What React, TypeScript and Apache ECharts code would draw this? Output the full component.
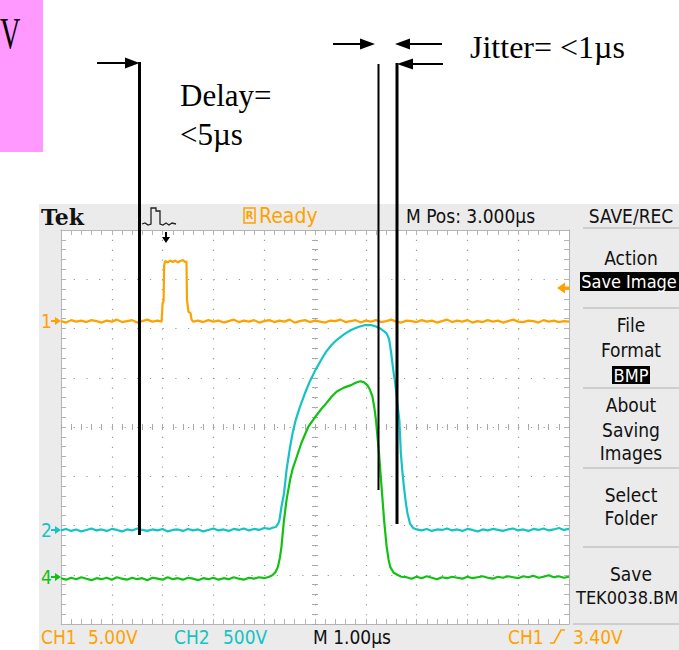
import React, { useEffect, useRef } from 'react';
import * as echarts from 'echarts';

// time in µs from screen centre, level in screen divisions
const ch1: number[][] = [
  [-5.0, 2.15], [-4.9, 2.12], [-4.8, 2.17], [-4.7, 2.14], [-4.6, 2.16], [-4.5, 2.13], [-4.4, 2.17], [-4.3, 2.15],
  [-4.2, 2.12], [-4.1, 2.16], [-4.0, 2.14], [-3.9, 2.18], [-3.8, 2.13], [-3.7, 2.15], [-3.6, 2.17], [-3.5, 2.12],
  [-3.4, 2.15], [-3.3, 2.18], [-3.2, 2.14], [-3.1, 2.16], [-3.02, 2.14],
  [-3.0, 2.52], [-2.98, 2.56], [-2.97, 3.28], [-2.95, 3.37], [-2.9, 3.34], [-2.85, 3.38], [-2.8, 3.35], [-2.75, 3.38],
  [-2.7, 3.34], [-2.65, 3.37], [-2.6, 3.39], [-2.56, 3.35], [-2.53, 3.36], [-2.52, 2.58], [-2.49, 2.34], [-2.45, 2.31],
  [-2.43, 2.18], [-2.4, 2.14], [-2.3, 2.16], [-2.2, 2.13], [-2.1, 2.17], [-2.0, 2.14], [-1.9, 2.16], [-1.8, 2.12],
  [-1.7, 2.15], [-1.6, 2.18], [-1.5, 2.13], [-1.4, 2.16], [-1.3, 2.14], [-1.2, 2.17], [-1.1, 2.12], [-1.0, 2.15],
  [-0.9, 2.17], [-0.8, 2.13], [-0.7, 2.16], [-0.6, 2.14], [-0.5, 2.18], [-0.4, 2.12], [-0.3, 2.15], [-0.2, 2.17],
  [-0.1, 2.13], [0.0, 2.16], [0.1, 2.14], [0.2, 2.12], [0.3, 2.16], [0.4, 2.15], [0.5, 2.18], [0.6, 2.13],
  [0.7, 2.15], [0.8, 2.17], [0.9, 2.12], [1.0, 2.16], [1.1, 2.14], [1.2, 2.17], [1.3, 2.13], [1.4, 2.15],
  [1.5, 2.18], [1.6, 2.14], [1.7, 2.12], [1.8, 2.16], [1.9, 2.15], [2.0, 2.13], [2.1, 2.17], [2.2, 2.14],
  [2.3, 2.16], [2.4, 2.12], [2.5, 2.15], [2.6, 2.18], [2.7, 2.13], [2.8, 2.16], [2.9, 2.14], [3.0, 2.17],
  [3.1, 2.12], [3.2, 2.15], [3.3, 2.13], [3.4, 2.17], [3.5, 2.14], [3.6, 2.16], [3.7, 2.12], [3.8, 2.15],
  [3.9, 2.18], [4.0, 2.14], [4.1, 2.13], [4.2, 2.16], [4.3, 2.15], [4.4, 2.12], [4.5, 2.17], [4.6, 2.14],
  [4.7, 2.16], [4.8, 2.13], [4.9, 2.15], [5.0, 2.14],
];

const ch2: number[][] = [
  [-5.0, -2.10], [-4.9, -2.07], [-4.8, -2.11], [-4.7, -2.08], [-4.6, -2.12], [-4.5, -2.09], [-4.4, -2.06], [-4.3, -2.10],
  [-4.2, -2.08], [-4.1, -2.11], [-4.0, -2.07], [-3.9, -2.09], [-3.8, -2.12], [-3.7, -2.08], [-3.6, -2.10], [-3.5, -2.06],
  [-3.4, -2.09], [-3.3, -2.11], [-3.2, -2.08], [-3.1, -2.10], [-3.0, -2.07], [-2.9, -2.12], [-2.8, -2.09], [-2.7, -2.08],
  [-2.6, -2.11], [-2.5, -2.07], [-2.4, -2.10], [-2.3, -2.08], [-2.2, -2.12], [-2.1, -2.09], [-2.0, -2.06], [-1.9, -2.10],
  [-1.8, -2.08], [-1.7, -2.11], [-1.6, -2.07], [-1.5, -2.09], [-1.4, -2.06], [-1.3, -2.10], [-1.2, -2.07], [-1.1, -2.09],
  [-1.0, -2.05], [-0.9, -2.07], [-0.82, -2.04],
  [-0.77, -2.03], [-0.72, -1.95], [-0.7, -1.89], [-0.66, -1.62], [-0.61, -1.35], [-0.56, -0.87], [-0.49, -0.40],
  [-0.44, -0.12], [-0.38, 0.14], [-0.3, 0.40], [-0.2, 0.68], [-0.1, 0.93], [0.01, 1.16], [0.12, 1.36], [0.22, 1.53],
  [0.32, 1.66], [0.43, 1.77], [0.57, 1.88], [0.71, 1.97], [0.85, 2.03], [0.99, 2.07], [1.1, 2.07], [1.2, 2.04],
  [1.3, 1.99], [1.41, 1.90], [1.46, 1.78], [1.5, 1.50], [1.54, 1.16], [1.57, 0.95], [1.6, 0.70], [1.63, 0.40],
  [1.66, 0.14], [1.69, -0.53], [1.72, -0.90], [1.75, -1.21], [1.79, -1.55], [1.82, -1.75], [1.87, -1.96], [1.93, -2.05],
  [2.0, -2.08], [2.1, -2.10], [2.2, -2.07], [2.3, -2.11], [2.4, -2.08], [2.5, -2.09], [2.6, -2.06], [2.7, -2.10],
  [2.8, -2.08], [2.9, -2.11], [3.0, -2.07], [3.1, -2.09], [3.2, -2.12], [3.3, -2.08], [3.4, -2.10], [3.5, -2.07],
  [3.6, -2.09], [3.7, -2.11], [3.8, -2.08], [3.9, -2.06], [4.0, -2.10], [4.1, -2.08], [4.2, -2.11], [4.3, -2.07],
  [4.4, -2.09], [4.5, -2.06], [4.6, -2.10], [4.7, -2.08], [4.8, -2.05], [4.9, -2.09], [5.0, -2.07],
];

const ch4: number[][] = [
  [-5.0, -3.07], [-4.9, -3.10], [-4.8, -3.06], [-4.7, -3.09], [-4.6, -3.05], [-4.5, -3.08], [-4.4, -3.11], [-4.3, -3.07],
  [-4.2, -3.09], [-4.1, -3.06], [-4.0, -3.10], [-3.9, -3.05], [-3.8, -3.08], [-3.7, -3.10], [-3.6, -3.06], [-3.5, -3.09],
  [-3.4, -3.07], [-3.3, -3.11], [-3.2, -3.06], [-3.1, -3.08], [-3.0, -3.10], [-2.9, -3.05], [-2.8, -3.09], [-2.7, -3.07],
  [-2.6, -3.10], [-2.5, -3.06], [-2.4, -3.08], [-2.3, -3.11], [-2.2, -3.07], [-2.1, -3.09], [-2.0, -3.06], [-1.9, -3.10],
  [-1.8, -3.07], [-1.7, -3.09], [-1.6, -3.05], [-1.5, -3.08], [-1.4, -3.10], [-1.3, -3.06], [-1.2, -3.08], [-1.1, -3.05],
  [-1.0, -3.07], [-0.9, -3.04],
  [-0.84, -3.01], [-0.78, -2.95], [-0.73, -2.84], [-0.69, -2.65], [-0.66, -2.43], [-0.63, -2.10], [-0.61, -1.89],
  [-0.56, -1.48], [-0.49, -1.07], [-0.44, -0.85], [-0.38, -0.67], [-0.27, -0.33], [-0.13, 0.01], [0.01, 0.21],
  [0.12, 0.36], [0.22, 0.48], [0.33, 0.62], [0.43, 0.72], [0.57, 0.80], [0.71, 0.85], [0.8, 0.90], [0.89, 0.93],
  [0.96, 0.91], [1.03, 0.85], [1.08, 0.76], [1.13, 0.62], [1.17, 0.38], [1.2, 0.14], [1.23, -0.20], [1.26, -0.53],
  [1.31, -1.21], [1.36, -1.89], [1.41, -2.43], [1.45, -2.70], [1.48, -2.84], [1.55, -2.96], [1.62, -3.00], [1.7, -3.04],
  [1.8, -3.05], [1.9, -3.08], [2.0, -3.04], [2.1, -3.07], [2.2, -3.03], [2.3, -3.06], [2.4, -3.09], [2.5, -3.05],
  [2.6, -3.07], [2.7, -3.04], [2.8, -3.06], [2.9, -3.08], [3.0, -3.04], [3.1, -3.07], [3.2, -3.05], [3.3, -3.03],
  [3.4, -3.06], [3.5, -3.08], [3.6, -3.04], [3.7, -3.06], [3.8, -3.03], [3.9, -3.05], [4.0, -3.07], [4.1, -3.03],
  [4.2, -3.05], [4.3, -3.02], [4.4, -3.06], [4.5, -3.04], [4.6, -3.01], [4.7, -3.05], [4.8, -3.03], [4.9, -3.06],
  [5.0, -3.04],
];

const menuLabels = ['Action', 'File', 'Format', 'About', 'Saving', 'Images', 'Select', 'Folder', 'Save'];

const ORANGE = '#ffa200';
const CYAN = '#14c3c3';
const GREEN = '#12c212';
const SANS = '"DejaVu Sans Condensed", "DejaVu Sans", sans-serif';
const SERIF = '"Liberation Serif", "Times New Roman", serif';
const TICK = '#b4b4b4';

function txt(text: string, x: number, y: number, size: number, color: string, align = 'left', font = SANS, weight = 'normal', z = 10): any {
  return {
    type: 'text', z,
    style: {
      text, x, y, fill: color, font: `${weight} ${size}px ${font}`,
      textAlign: align, textVerticalAlign: 'middle', align, verticalAlign: 'middle',
    },
  };
}
function ln(x1: number, y1: number, x2: number, y2: number, color: string, w: number, z = 100): any {
  return { type: 'line', z, shape: { x1, y1, x2, y2 }, style: { stroke: color, lineWidth: w } };
}
function poly(points: number[][], color: string, z = 100): any {
  return { type: 'polygon', z, shape: { points }, style: { fill: color } };
}

function borderAxis(position: string, split: any): any {
  return {
    type: 'value', min: position === 'left' || position === 'right' ? -4 : -5,
    max: position === 'left' || position === 'right' ? 4 : 5, interval: 1, position,
    axisLine: { show: true, onZero: false, lineStyle: { color: TICK, width: 1 } },
    axisTick: { show: true, inside: true, length: 5, lineStyle: { color: TICK } },
    minorTick: { show: true, splitNumber: 5, length: 5, lineStyle: { color: TICK } },
    axisLabel: { show: false },
    splitLine: split,
  };
}
function centreAxis(position: string, horizontal: boolean): any {
  return {
    type: 'value', min: horizontal ? -5 : -4, max: horizontal ? 5 : 4, interval: 1, position,
    axisLine: { show: false, onZero: true, onZeroAxisIndex: 0 },
    axisTick: { show: true, inside: true, length: 3, lineStyle: { color: '#a8a8a8' } },
    minorTick: { show: true, splitNumber: 5, length: 3, lineStyle: { color: '#a8a8a8' } },
    axisLabel: { show: false },
    splitLine: { show: false },
  };
}

export default function App() {
  const ref = useRef<HTMLDivElement>(null);
  useEffect(() => {
    const chart = echarts.init(ref.current!, undefined, { renderer: 'svg' });
    const menuY = [257.5, 325, 349.5, 405, 429.5, 452.5, 494.5, 517.5, 573.5];
    const graphic: any[] = [
      { type: 'rect', z: -100, shape: { x: 39, y: 204, width: 640, height: 446 }, style: { fill: '#ebebeb' } },
      // pink label box
      { type: 'rect', z: 5, shape: { x: 0, y: 0, width: 43, height: 152 }, style: { fill: '#ff99ff' } },
      {
        type: 'text', z: 10, x: 0, y: 33, scaleX: 0.64,
        style: { text: 'V', x: 0, y: 0, fill: '#000', font: `normal 44px ${SERIF}`, textAlign: 'left', align: 'left', textVerticalAlign: 'middle', verticalAlign: 'middle' },
      },
      // header
      txt('Tek', 41, 216.5, 22, '#111', 'left', '"DejaVu Serif", serif', 'bold'),
      { type: 'polyline', z: 10, shape: { points: [[142, 224], [145, 223], [148, 225], [151, 224], [151, 208], [156, 208], [156, 211], [160, 211], [160, 224], [163, 225], [166, 223], [169, 225], [172, 223], [176, 224]] }, style: { stroke: '#222', lineWidth: 1.3, fill: 'none' } },
      ln(166, 232, 166, 238, '#000', 2, 10),
      poly([[162, 237], [170, 237], [166, 243]], '#000', 10),
      { type: 'rect', z: 10, shape: { x: 244, y: 208, width: 11, height: 15 }, style: { fill: 'none', stroke: ORANGE, lineWidth: 1.5 } },
      txt('R', 249.5, 215.5, 11, ORANGE, 'center', SANS, 'bold'),
      txt('Ready', 259, 215.5, 21, ORANGE),
      txt('M Pos: 3.000µs', 406, 215.5, 19, '#111'),
      txt('SAVE/REC', 631, 215.5, 19, '#111', 'center'),
      // right menu
      ...[228, 308, 388, 468, 547].map((y) => ln(583, y, 679, y, '#b0b0b0', 1, 10)),
      ln(573, 624, 679, 624, '#b0b0b0', 1, 10),
      ...menuLabels.map((s, i) => txt(s, 631, menuY[i], 19, '#111', 'center')),
      { type: 'rect', z: 10, shape: { x: 580, y: 272, width: 99, height: 19 }, style: { fill: '#000' } },
      txt('Save Image', 629, 281.5, 18, '#fff', 'center'),
      { type: 'rect', z: 10, shape: { x: 612, y: 366, width: 38, height: 18 }, style: { fill: '#000' } },
      txt('BMP', 631, 375, 18, '#fff', 'center'),
      txt('TEK0038.BM', 576, 597.5, 18, '#111'),
      // bottom status line
      txt('CH1', 41, 636.5, 19, ORANGE), txt('5.00V', 88, 636.5, 19, ORANGE),
      txt('CH2', 174, 636.5, 19, CYAN), txt('500V', 223, 636.5, 19, CYAN),
      txt('M 1.00µs', 313, 636.5, 19, '#111'),
      txt('CH1', 508, 636.5, 19, ORANGE), txt('3.40V', 573, 636.5, 19, ORANGE),
      { type: 'polyline', z: 10, shape: { points: [[550, 643], [554, 643], [561, 630], [565, 630]] }, style: { stroke: ORANGE, lineWidth: 1.6, fill: 'none' } },
      // channel ground markers
      txt('1', 41, 321, 19, ORANGE), ln(51, 321, 57, 321, ORANGE, 2, 10), poly([[55, 317], [61, 321], [55, 325]], ORANGE, 10),
      txt('2', 41, 530, 19, CYAN), ln(51, 530, 57, 530, CYAN, 2, 10), poly([[55, 526], [61, 530], [55, 534]], CYAN, 10),
      txt('4', 41, 577, 19, GREEN), ln(51, 577, 57, 577, GREEN, 2, 10), poly([[55, 573], [61, 577], [55, 581]], GREEN, 10),
      // trigger level arrow
      poly([[557, 288], [565, 282.5], [565, 293.5]], ORANGE, 10), ln(564, 288, 570, 288, ORANGE, 3, 10),
      // annotations
      ln(97, 63, 127, 63, '#000', 2), poly([[125, 57.5], [139.5, 63], [125, 68.5]], '#000'),
      ln(139.5, 62, 139.5, 535, '#000', 3),
      txt('Delay=', 180, 95, 31, '#000', 'left', SERIF, 'normal', 100),
      txt('<5µs', 180, 134, 31, '#000', 'left', SERIF, 'normal', 100),
      ln(333, 44, 362, 44, '#000', 2), poly([[360, 38.5], [375, 44], [360, 49.5]], '#000'),
      ln(408, 44, 442, 44, '#000', 2), poly([[410, 38.5], [395, 44], [410, 49.5]], '#000'),
      ln(411, 64, 443, 64, '#000', 2), poly([[413, 58.5], [397, 64], [413, 69.5]], '#000'),
      ln(378.5, 64, 378.5, 490, '#000', 2),
      ln(397, 63, 397, 524, '#000', 3),
      txt('Jitter= <1µs', 470, 47, 32, '#000', 'left', SERIF, 'normal', 100),
    ];

    chart.setOption({
      animation: false,
      grid: { left: 61, top: 230, width: 508, height: 394, show: true, backgroundColor: '#ffffff', borderWidth: 0 },
      xAxis: [
        borderAxis('bottom', { show: true, lineStyle: { color: '#9a9a9a', width: 1.2, type: [1.2, 8.65] } }),
        borderAxis('top', { show: false }),
        centreAxis('bottom', true),
        centreAxis('top', true),
      ],
      yAxis: [
        borderAxis('left', { show: true, lineStyle: { color: '#9a9a9a', width: 1.2, type: [1.2, 11.5] } }),
        borderAxis('right', { show: false }),
        centreAxis('left', false),
        centreAxis('right', false),
      ],
      series: [
        { type: 'line', data: ch4, showSymbol: false, lineStyle: { color: GREEN, width: 2.2 }, z: 3 },
        { type: 'line', data: ch2, showSymbol: false, lineStyle: { color: CYAN, width: 2.2 }, z: 4 },
        { type: 'line', data: ch1, showSymbol: false, lineStyle: { color: ORANGE, width: 2.2 }, z: 5 },
      ],
      graphic,
    });
    return () => chart.dispose();
  }, []);
  return <div ref={ref} style={{ position: 'absolute', left: 0, top: 0, width: 679, height: 650 }} />;
}
